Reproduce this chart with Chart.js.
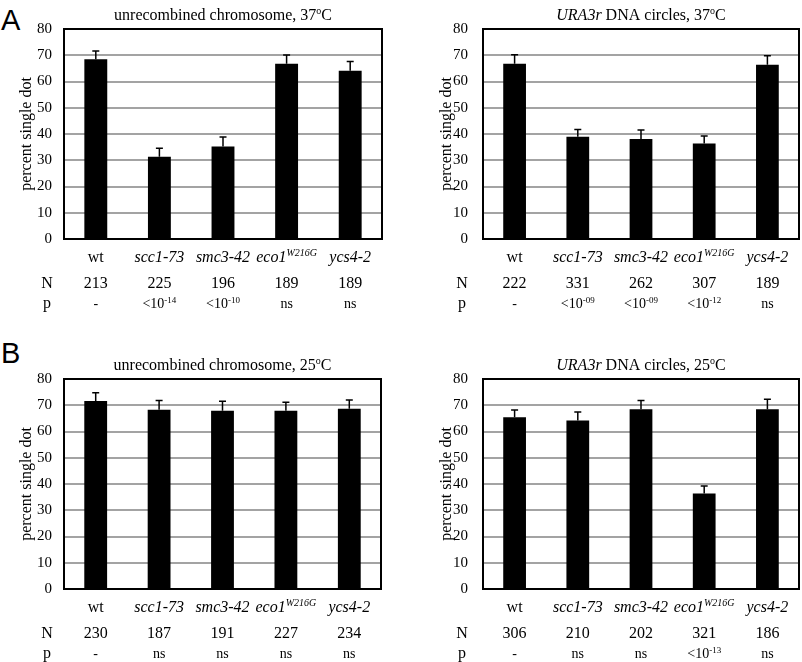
<!DOCTYPE html>
<html>
<head>
<meta charset="utf-8">
<script src="https://cdn.jsdelivr.net/npm/chart.js@4.4.0/dist/chart.umd.min.js"></script>
<style>
  body { margin: 0; background: #fff; }
  #page { position: relative; width: 802px; height: 662px; overflow: hidden; }
  canvas { position: absolute; }
  .letter { position: absolute; font: 29px 'Liberation Sans', Arial, sans-serif; line-height: 29px; color: #000; }
</style>
</head>
<body>
<div id="page">
  <div class="letter" style="left:1px;top:6px">A</div>
  <div class="letter" style="left:1px;top:339px">B</div>
  <canvas id="chromA" width="400" height="320" style="left:0;top:0"></canvas>
  <canvas id="circA" width="402" height="320" style="left:400px;top:0"></canvas>
  <canvas id="chromB" width="400" height="342" style="left:0;top:320px"></canvas>
  <canvas id="circB" width="402" height="342" style="left:400px;top:320px"></canvas>
</div>
<script>
// strains (x categories); *...* = italic, ^{...} = superscript
const categories = ['wt', '*scc1-73*', '*smc3-42*', '*eco1^{W216G}*', '*ycs4-2*'];

// A: 37ºC
const chromA37Values = [68.5, 31.3, 35.2, 66.8, 64.1];
const chromA37Err = [3.1, 3.3, 3.7, 3.3, 3.5];
const chromA37N = [213, 225, 196, 189, 189];
const chromA37P = ['-', '<10^{-14}', '<10^{-10}', 'ns', 'ns'];

const circA37Values = [66.8, 39.0, 38.1, 36.4, 66.4];
const circA37Err = [3.4, 2.7, 3.4, 2.8, 3.4];
const circA37N = [222, 331, 262, 307, 189];
const circA37P = ['-', '<10^{-09}', '<10^{-09}', '<10^{-12}', 'ns'];

// B: 25ºC
const chromB25Values = [71.6, 68.3, 67.9, 67.9, 68.7];
const chromB25Err = [3.2, 3.5, 3.6, 3.2, 3.3];
const chromB25N = [230, 187, 191, 227, 234];
const chromB25P = ['-', 'ns', 'ns', 'ns', 'ns'];

const circB25Values = [65.4, 64.2, 68.5, 36.4, 68.5];
const circB25Err = [2.8, 3.2, 3.3, 2.8, 3.8];
const circB25N = [306, 210, 202, 321, 186];
const circB25P = ['-', 'ns', 'ns', '<10^{-13}', 'ns'];

const SERIF = "'Liberation Serif', 'Times New Roman', serif";

// split a marked-up string into runs of {t, it, sup}
function parseRich(str) {
  const parts = [];
  let it = false, sup = false;
  str.split(/(\*|\^\{|\})/).forEach(tok => {
    if (tok === '*') it = !it;
    else if (tok === '^{') sup = true;
    else if (tok === '}') sup = false;
    else if (tok) parts.push({ t: tok, it, sup });
  });
  return parts;
}

function drawRich(ctx, str, x, y, size, align) {
  const parts = parseRich(str);
  const supSize = Math.round(size * 0.65);
  const fontOf = p => (p.it ? 'italic ' : '') + (p.sup ? supSize : size) + 'px ' + SERIF;
  const widths = parts.map(p => { ctx.font = fontOf(p); return ctx.measureText(p.t).width; });
  const total = widths.reduce((a, b) => a + b, 0);
  let cx = align === 'center' ? x - total / 2 : x;
  ctx.textAlign = 'left';
  ctx.textBaseline = 'alphabetic';
  parts.forEach((p, i) => {
    ctx.font = fontOf(p);
    ctx.fillText(p.t, cx, p.sup ? y - size * 0.38 : y);
    cx += widths[i];
  });
}

function panelPlugin(cfg) {
  return {
    id: 'panelExtras',
    afterDatasetsDraw(chart) {
      const { ctx, chartArea: a, scales: { x, y } } = chart;
      ctx.save();
      // error bars (upper only)
      ctx.strokeStyle = '#000';
      ctx.lineWidth = 1.5;
      cfg.values.forEach((v, i) => {
        const px = x.getPixelForValue(i);
        const yb = y.getPixelForValue(v);
        const yt = y.getPixelForValue(v + cfg.errors[i]);
        ctx.beginPath();
        ctx.moveTo(px, yb);
        ctx.lineTo(px, yt);
        ctx.moveTo(px - 3.5, yt);
        ctx.lineTo(px + 3.5, yt);
        ctx.stroke();
      });
      // frame
      ctx.lineWidth = 2;
      ctx.strokeRect(a.left, a.top, a.right - a.left, a.bottom - a.top);
      ctx.restore();
    },
    afterDraw(chart) {
      const { ctx, chartArea: a, scales: { x } } = chart;
      ctx.save();
      ctx.fillStyle = '#000';
      drawRich(ctx, cfg.title, (a.left + a.right) / 2, a.top - 9, 16, 'center');
      drawRich(ctx, 'N', cfg.rowLabelX, a.bottom + 49, 16, 'center');
      drawRich(ctx, 'p', cfg.rowLabelX, a.bottom + 69, 16, 'center');
      categories.forEach((c, i) => {
        const px = x.getPixelForValue(i);
        drawRich(ctx, c, px, a.bottom + 23, 16, 'center');
        drawRich(ctx, String(cfg.n[i]), px, a.bottom + 49, 16, 'center');
        drawRich(ctx, cfg.p[i], px, a.bottom + 69, 14, 'center');
      });
      ctx.restore();
    }
  };
}

function makePanel(id, cfg) {
  new Chart(document.getElementById(id), {
    type: 'bar',
    data: {
      labels: categories,
      datasets: [{
        data: cfg.values,
        backgroundColor: '#000',
        borderWidth: 0,
        barPercentage: 0.36,
        categoryPercentage: 1,
      }],
    },
    options: {
      responsive: false,
      animation: false,
      layout: { padding: cfg.padding },
      plugins: { legend: { display: false }, tooltip: { enabled: false } },
      scales: {
        x: { display: false },
        y: {
          min: 0,
          max: 80,
          ticks: { stepSize: 10, padding: cfg.tickPad, color: '#000', font: { family: SERIF, size: 15 } },
          grid: { color: '#a3a3a3', lineWidth: 2, drawTicks: false },
          border: { display: false },
          title: {
            display: true,
            text: 'percent single dot',
            color: '#000',
            font: { family: SERIF, size: 16 },
            padding: { top: 4, bottom: 0 },
          },
          afterFit(scale) { scale.width = cfg.axisWidth; },
        },
      },
    },
    plugins: [panelPlugin(cfg)],
  });
}

makePanel('chromA', {
  title: 'unrecombined chromosome, 37^{o}C',
  values: chromA37Values, errors: chromA37Err, n: chromA37N, p: chromA37P,
  padding: { left: 13, top: 29, right: 18, bottom: 81 },
  axisWidth: 51, tickPad: 12, rowLabelX: 47,
});
makePanel('circA', {
  title: '*URA3r* DNA circles, 37^{o}C',
  values: circA37Values, errors: circA37Err, n: circA37N, p: circA37P,
  padding: { left: 33, top: 29, right: 3, bottom: 81 },
  axisWidth: 50, tickPad: 15, rowLabelX: 62,
});
makePanel('chromB', {
  title: 'unrecombined chromosome, 25^{o}C',
  values: chromB25Values, errors: chromB25Err, n: chromB25N, p: chromB25P,
  padding: { left: 13, top: 59, right: 19, bottom: 73 },
  axisWidth: 51, tickPad: 12, rowLabelX: 47,
});
makePanel('circB', {
  title: '*URA3r* DNA circles, 25^{o}C',
  values: circB25Values, errors: circB25Err, n: circB25N, p: circB25P,
  padding: { left: 33, top: 59, right: 3, bottom: 73 },
  axisWidth: 50, tickPad: 15, rowLabelX: 62,
});
</script>
</body>
</html>
